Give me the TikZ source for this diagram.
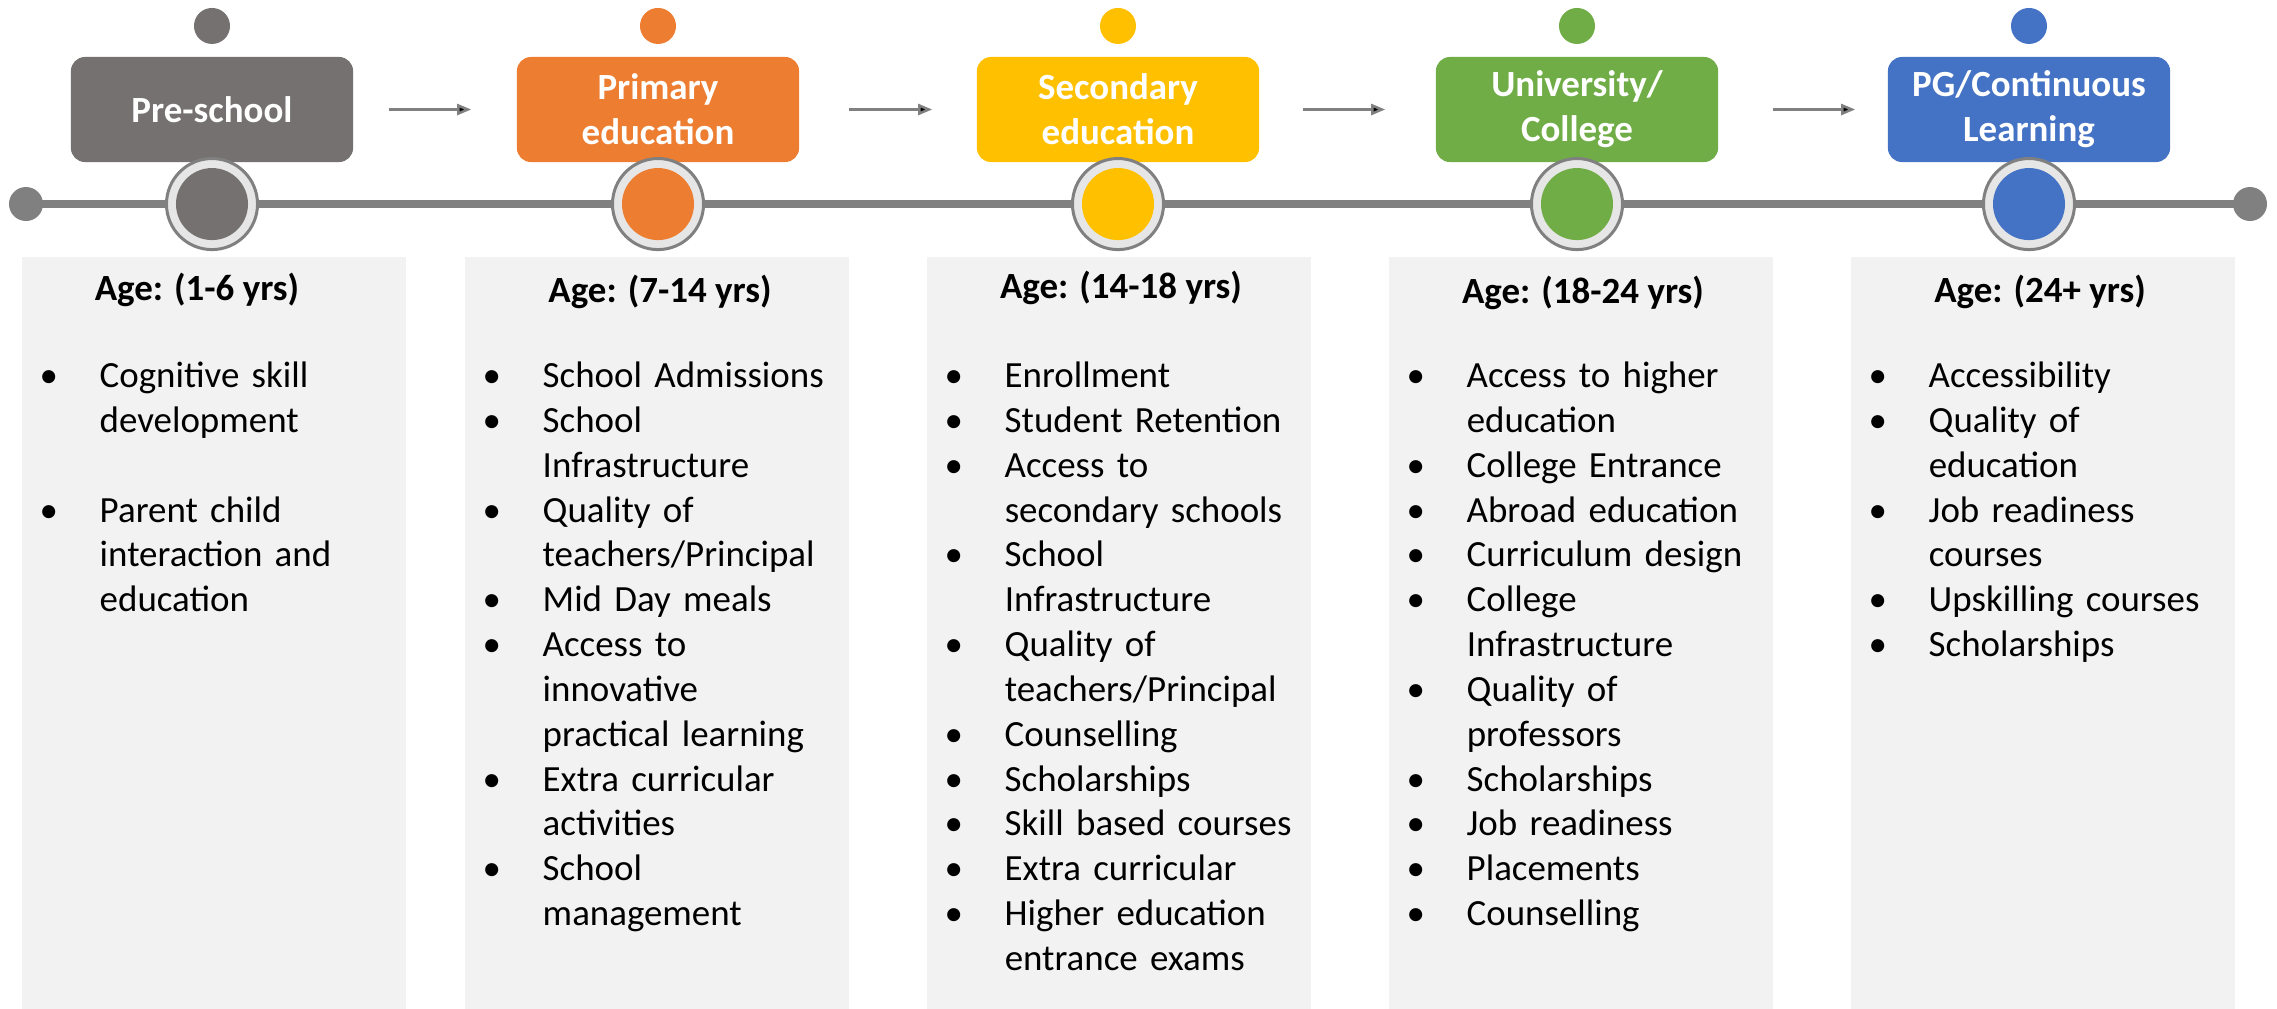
\documentclass[tikz,border=0pt]{standalone}
\usepackage{fontspec}
\setmainfont{Carlito}
\usetikzlibrary{arrows.meta,positioning}

\definecolor{preGray}{HTML}{767171}
\definecolor{primOrange}{HTML}{ED7D31}
\definecolor{secYellow}{HTML}{FFC000}
\definecolor{uniGreen}{HTML}{70AD47}
\definecolor{pgBlue}{HTML}{4472C4}
\definecolor{lineGray}{HTML}{808080}
\definecolor{ringGray}{HTML}{E7E6E6}
\definecolor{panelGray}{HTML}{F2F2F2}

\newlength\bulskip \setlength\bulskip{0.18cm}
\newlength\bulind \setlength\bulind{0.78cm}
\newcommand\bul[1]{\par\hangindent=\bulind\hangafter=1\noindent\strut\hbox to\bulind{\hskip\bulskip\textbullet\hfil}#1}

\tikzset{
  stage/.style={rectangle, rounded corners=0.14cm, minimum width=2.82cm, minimum height=1.05cm,
    inner sep=0pt, align=center, text=white, font=\fontsize{10.5}{12.75}\selectfont\bfseries},
  topdot/.style={circle, inner sep=0pt, minimum size=0.36cm},
  enddot/.style={circle, inner sep=0pt, minimum size=0.34cm, fill=lineGray},
  ring/.style={circle, inner sep=0pt, minimum size=0.91cm, fill=ringGray, draw=lineGray, line width=0.03cm},
  core/.style={circle, inner sep=0pt, minimum size=0.72cm},
  panel/.style={rectangle, inner sep=0pt, fill=panelGray, minimum width=3.84cm, minimum height=7.52cm, anchor=north west},
  agehead/.style={anchor=base, inner sep=0pt, font=\fontsize{10.5}{12.75}\selectfont\bfseries},
  items/.style={anchor=north west, inner sep=0pt, text width=3.7cm, font=\fontsize{10.5}{12.75}\selectfont},
  timeline/.style={draw=lineGray, line width=0.08cm},
  flow/.style={-{Triangle[length=0.14cm,width=0.11cm]}, draw=lineGray, line width=0.025cm}
}

\begin{document}
\begin{tikzpicture}[x=0.01cm, y=-0.01cm, node distance=1cm, on grid]
  \useasboundingbox (0,0) rectangle (2277,1008);

  % stages
  \node [stage, fill=preGray] (pre) at (212,109.5) {Pre-school};
  \node [stage, fill=primOrange] (prim) at (658,109.5) {Primary\\education};
  \node [stage, fill=secYellow] (sec) at (1118,109.5) {Secondary\\education};
  \node [stage, fill=uniGreen] (uni) at (1577,109.5) {University/\\College};
  \node [stage, fill=pgBlue] (pg) at (2029,109.5) {PG/Continuous\\Learning};

  \node [topdot, fill=preGray] (dot1) [above=0.835cm of pre] {};
  \node [topdot, fill=primOrange] (dot2) [above=0.835cm of prim] {};
  \node [topdot, fill=secYellow] (dot3) [above=0.835cm of sec] {};
  \node [topdot, fill=uniGreen] (dot4) [above=0.835cm of uni] {};
  \node [topdot, fill=pgBlue] (dot5) [above=0.835cm of pg] {};

  \path[flow]
    (pre) edge [shorten <=0.35cm, shorten >=0.45cm] (prim)
    (prim) edge [shorten <=0.49cm, shorten >=0.44cm] (sec)
    (sec) edge [shorten <=0.43cm, shorten >=0.50cm] (uni)
    (uni) edge [shorten <=0.54cm, shorten >=0.32cm] (pg);

  % timeline
  \node [enddot] (tl) at (26,204) {};
  \node [enddot] (tr) at (2250,204) {};
  \draw [timeline] (tl.center) -- (tr.center);

  \node [ring] (ring1) [below=0.945cm of pre] {};
  \node [ring] (ring2) [below=0.945cm of prim] {};
  \node [ring] (ring3) [below=0.945cm of sec] {};
  \node [ring] (ring4) [below=0.945cm of uni] {};
  \node [ring] (ring5) [below=0.945cm of pg] {};
  \node [core, fill=preGray] (core1) at (ring1) {};
  \node [core, fill=primOrange] (core2) at (ring2) {};
  \node [core, fill=secYellow] (core3) at (ring3) {};
  \node [core, fill=uniGreen] (core4) at (ring4) {};
  \node [core, fill=pgBlue] (core5) at (ring5) {};

  % panels
  \node [panel] (box1) at (21,256) {};
  \node [panel] (box2) at (464,256) {};
  \node [panel] (box3) at (926,256) {};
  \node [panel] (box4) at (1388,256) {};
  \node [panel] (box5) at (1850,256) {};

  \node [agehead] (age1) at (197,300) {Age: (1-6 yrs)};
  \node [agehead] (age2) at (660,302) {Age: (7-14 yrs)};
  \node [agehead] (age3) at (1121,298) {Age: (14-18 yrs)};
  \node [agehead] (age4) at (1583,303) {Age: (18-24 yrs)};
  \node [agehead] (age5) at (2040,302) {Age: (24+ yrs)};

  \node [items] (list1) at (21,342) {\bul{Cognitive skill\newline development}\par\strut
    \bul{Parent child\newline interaction and\newline education}\par};
  \node [items] (list2) at (464,342) {\bul{School Admissions}
    \bul{School\newline Infrastructure}
    \bul{Quality of\newline teachers/Principal}
    \bul{Mid Day meals}
    \bul{Access to\newline innovative\newline practical learning}
    \bul{Extra curricular\newline activities}
    \bul{School\newline management}\par};
  \node [items] (list3) at (926,342) {\bul{Enrollment}
    \bul{Student Retention}
    \bul{Access to\newline secondary schools}
    \bul{School\newline Infrastructure}
    \bul{Quality of\newline teachers/Principal}
    \bul{Counselling}
    \bul{Scholarships}
    \bul{Skill based courses}
    \bul{Extra curricular}
    \bul{Higher education\newline entrance exams}\par};
  \node [items] (list4) at (1388,342) {\bul{Access to higher\newline education}
    \bul{College Entrance}
    \bul{Abroad education}
    \bul{Curriculum design}
    \bul{College\newline Infrastructure}
    \bul{Quality of\newline professors}
    \bul{Scholarships}
    \bul{Job readiness}
    \bul{Placements}
    \bul{Counselling}\par};
  \node [items] (list5) at (1850,342) {\bul{Accessibility}
    \bul{Quality of\newline education}
    \bul{Job readiness\newline courses}
    \bul{Upskilling courses}
    \bul{Scholarships}\par};
\end{tikzpicture}
\end{document}
